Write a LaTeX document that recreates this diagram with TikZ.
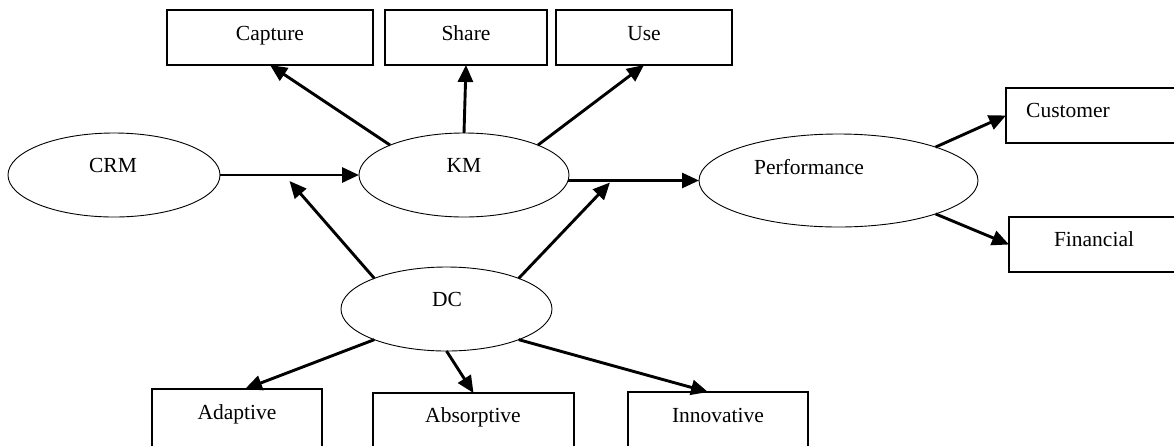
\documentclass[tikz,border=0pt]{standalone}
\usepackage{fontspec}
\setmainfont{Liberation Serif}
\usetikzlibrary{shapes.geometric,arrows.meta,calc}
\begin{document}
\begin{tikzpicture}[x=1pt,y=-1pt,
  box/.style={draw,line width=1.2pt,rectangle,inner sep=0pt,outer sep=0pt,anchor=north west},
  oval/.style={draw,line width=0.9pt,ellipse,inner sep=0pt,outer sep=0pt},
  lbl/.style={anchor=base,inner sep=0pt,font=\fontsize{21.5}{24}\selectfont},
  arr/.style={line width=2.9pt,-{Triangle[length=17pt,width=15pt]}}]
\useasboundingbox (0,0) rectangle (1174,445);
\clip (0,0) rectangle (1174,445);
% boxes
\node[box,minimum width=206pt,minimum height=55pt] (capture) at (167,10) {};
\node[box,minimum width=162pt,minimum height=55pt] (share) at (385,10) {};
\node[box,minimum width=176pt,minimum height=55pt] (use) at (556,10) {};
\node[box,minimum width=240pt,minimum height=55pt] (customer) at (1006,88) {};
\node[box,minimum width=240pt,minimum height=55pt] (financial) at (1009,217) {};
\node[box,minimum width=170pt,minimum height=90pt] (adaptive) at (152,389) {};
\node[box,minimum width=201pt,minimum height=90pt] (absorptive) at (373,393) {};
\node[box,minimum width=180pt,minimum height=90pt] (innovative) at (628,392) {};
% ellipses
\node[oval,minimum width=212pt,minimum height=84pt] (crm) at (114,175) {};
\node[oval,minimum width=210pt,minimum height=84pt] (km) at (464,175) {};
\node[oval,minimum width=279pt,minimum height=93pt] (perf) at (838.5,180.5) {};
\node[oval,minimum width=211pt,minimum height=84pt] (dc) at (446.5,309) {};
% texts
\node[lbl] (tcapture) at (270,40) {Capture};
\node[lbl] (tshare) at (466,40) {Share};
\node[lbl] (tuse) at (644,40) {Use};
\node[lbl] (tcrm) at (113,172) {CRM};
\node[lbl] (tkm) at (464,172) {KM};
\node[lbl] (tperf) at (809,174) {Performance};
\node[lbl] (tcustomer) at (1068,117) {Customer};
\node[lbl] (tfinancial) at (1094,246) {Financial};
\node[lbl] (tdc) at (447,306) {DC};
\node[lbl] (tadaptive) at (237,419) {Adaptive};
\node[lbl] (tabsorptive) at (473,422) {Absorptive};
\node[lbl] (tinnovative) at (718,422) {Innovative};
% connectors
\draw[arr] (km.158) -- (capture.south);
\draw[arr] (km.north) -- (share.south);
\draw[arr] (km.22) -- (use.south);
\draw[arr] (crm.east) -- (km.west);
\draw[arr] (km.-3) -- (perf.west);
\coordinate (m1) at ([yshift=-6pt]$(crm.east)!0.5!(km.west)$);
\coordinate (m2) at ([yshift=-2pt]$(km.-3)!0.32!(perf.west)$);
\draw[arr] (dc.157) -- (m1);
\draw[arr] (dc.23) -- (m2);
\draw[arr] (perf.19) -- (customer.west);
\draw[arr] (perf.-19) -- (financial.west);
\draw[arr] (dc.203) -- ([xshift=8pt]adaptive.north);
\draw[arr] (dc.south) -- (absorptive.north);
\draw[arr] (dc.-23) -- ([xshift=-10pt]innovative.north);
\end{tikzpicture}
\end{document}
